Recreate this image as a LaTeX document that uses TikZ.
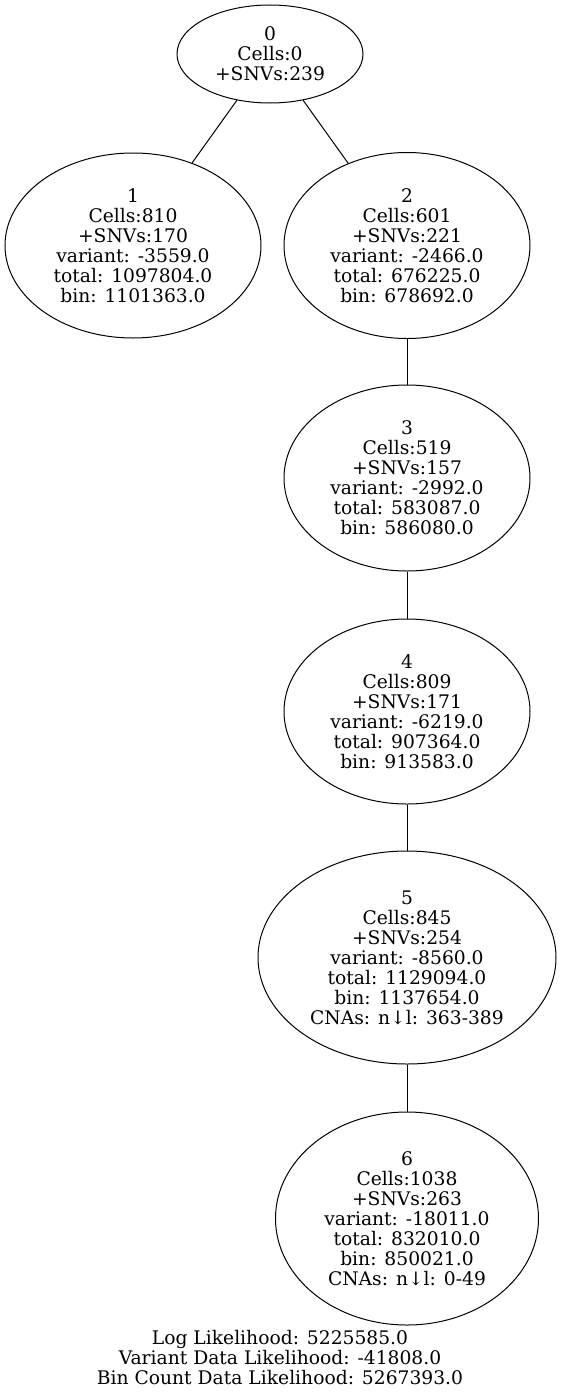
\documentclass[tikz,border=0pt]{standalone}
\usepackage{fontspec}
\setmainfont{DejaVu Serif}
\usetikzlibrary{shapes.geometric}
\tikzset{
  tnode/.style={draw, ellipse, line width=1pt, inner sep=0pt, align=center,
    font=\fontsize{18.7}{20}\selectfont},
  tedge/.style={line width=1pt},
  caption/.style={align=center, inner sep=0pt, font=\fontsize{18.7}{20}\selectfont}
}
\begin{document}
\begin{tikzpicture}[x=1pt,y=-1pt]
\useasboundingbox (0,0) rectangle (561,1397);
\node[tnode, minimum width=186pt, minimum height=98pt] (n0) at (270,54) {0\\Cells:0\\+SNVs:239};
\node[tnode, minimum width=256pt, minimum height=185pt] (n1) at (133,245.5) {1\\Cells:810\\+SNVs:170\\variant: -3559.0\\total: 1097804.0\\bin: 1101363.0};
\node[tnode, minimum width=246pt, minimum height=186pt] (n2) at (407,245.5) {2\\Cells:601\\+SNVs:221\\variant: -2466.0\\total: 676225.0\\bin: 678692.0};
\node[tnode, minimum width=246pt, minimum height=186pt] (n3) at (407,478) {3\\Cells:519\\+SNVs:157\\variant: -2992.0\\total: 583087.0\\bin: 586080.0};
\node[tnode, minimum width=246pt, minimum height=185pt] (n4) at (407,711.5) {4\\Cells:809\\+SNVs:171\\variant: -6219.0\\total: 907364.0\\bin: 913583.0};
\node[tnode, minimum width=298pt, minimum height=213pt] (n5) at (407,957.5) {5\\Cells:845\\+SNVs:254\\variant: -8560.0\\total: 1129094.0\\bin: 1137654.0\\CNAs: n↓l: 363-389};
\node[tnode, minimum width=263pt, minimum height=213pt] (n6) at (407,1218.5) {6\\Cells:1038\\+SNVs:263\\variant: -18011.0\\total: 832010.0\\bin: 850021.0\\CNAs: n↓l: 0-49};
\draw[tedge] (n0) -- (n1);
\draw[tedge] (n0) -- (n2);
\draw[tedge] (n2) -- (n3);
\draw[tedge] (n3) -- (n4);
\draw[tedge] (n4) -- (n5);
\draw[tedge] (n5) -- (n6);
\node[caption] (cap) at (280,1358) {Log Likelihood: 5225585.0\\Variant Data Likelihood: -41808.0\\Bin Count Data Likelihood: 5267393.0};
\end{tikzpicture}
\end{document}
